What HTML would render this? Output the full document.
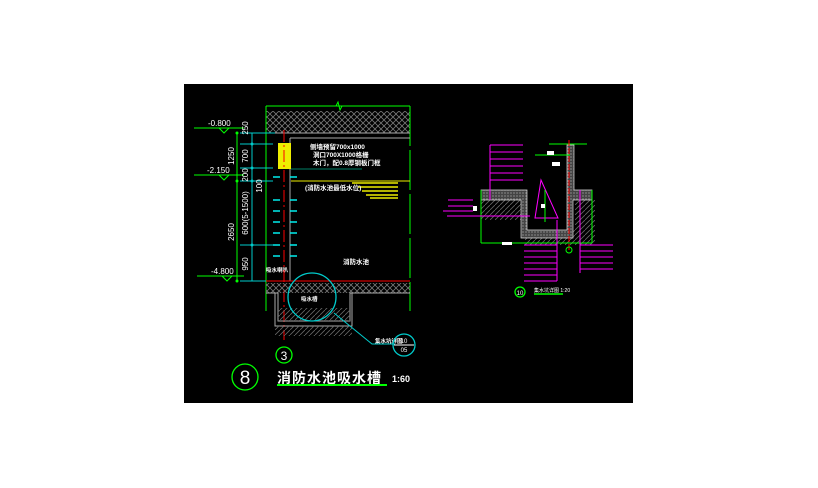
<!DOCTYPE html>
<html><head><meta charset="utf-8"><style>
html,body{margin:0;padding:0;background:#fff;width:818px;height:488px;overflow:hidden}
svg{display:block}
text{font-family:"Liberation Sans","Noto Sans CJK SC",sans-serif}
</style></head><body>
<svg width="818" height="488" viewBox="0 0 818 488" xmlns="http://www.w3.org/2000/svg">
<defs>
<pattern id="h" width="6" height="6" patternUnits="userSpaceOnUse"><path d="M0 6L6 0M0 0L6 6" stroke="#777" stroke-width="0.8"/></pattern>
<pattern id="h2" width="5" height="5" patternUnits="userSpaceOnUse"><path d="M0 5L5 0" stroke="#666" stroke-width="0.8"/></pattern>
<pattern id="dot" width="3" height="3" patternUnits="userSpaceOnUse"><rect width="3" height="3" fill="#444"/><circle cx="1" cy="1" r="0.6" fill="#bbb"/></pattern>
</defs>
<rect x="184" y="84" width="449" height="319" fill="#000"/>
<!-- left drawing -->
<rect x="266" y="111" width="144" height="22" fill="url(#h)"/>
<line x1="266" y1="106" x2="410" y2="106" stroke="#0f0"/>
<path d="M336 106l2-4 2 8 2-4" stroke="#0f0" fill="none"/>
<line x1="266" y1="106" x2="266" y2="311" stroke="#0f0"/>
<line x1="410" y1="106" x2="410" y2="311" stroke="#0f0" stroke-dasharray="40 4"/>
<line x1="266" y1="133" x2="410" y2="133" stroke="#aaa"/>
<line x1="290" y1="138" x2="410" y2="138" stroke="#aaa"/>
<line x1="290" y1="138" x2="290" y2="281" stroke="#aaa"/>
<rect x="278" y="143" width="13" height="26" fill="#ee0"/>
<line x1="291" y1="181" x2="410" y2="181" stroke="#ee0"/>
<g stroke="#ee0" stroke-width="1.5"><line x1="352" y1="183" x2="398" y2="183"/><line x1="358" y1="187" x2="398" y2="187"/><line x1="362" y1="191" x2="398" y2="191"/><line x1="366" y1="195" x2="398" y2="195"/><line x1="370" y1="198" x2="398" y2="198"/></g>
<line x1="291" y1="169" x2="362" y2="169" stroke="#0a8" stroke-width="0.7"/>
<g fill="#fff" font-size="6.5" font-weight="bold"><text x="310" y="149">侧墙预留700x1000</text><text x="313" y="157">洞口700X1000格栅</text><text x="313" y="165">木门，配0.8厚钢板门框</text><text x="305" y="190">(消防水池最低水位)</text><text x="343" y="264">消防水池</text><text x="266" y="272" font-size="5.5">吸水喇叭</text><text x="301" y="301" font-size="5.5">吸水槽</text><text x="375" y="343" font-size="5.5">集水坑详图</text></g>
<g stroke="#0ee" stroke-width="1.5"><line x1="273" y1="177" x2="280" y2="177"/><line x1="290" y1="177" x2="297" y2="177"/><line x1="273" y1="200" x2="280" y2="200"/><line x1="290" y1="200" x2="297" y2="200"/><line x1="273" y1="211" x2="280" y2="211"/><line x1="290" y1="211" x2="297" y2="211"/><line x1="273" y1="222" x2="280" y2="222"/><line x1="290" y1="222" x2="297" y2="222"/><line x1="273" y1="233" x2="280" y2="233"/><line x1="290" y1="233" x2="297" y2="233"/><line x1="273" y1="245" x2="280" y2="245"/><line x1="290" y1="245" x2="297" y2="245"/><line x1="273" y1="256" x2="280" y2="256"/><line x1="290" y1="256" x2="297" y2="256"/></g>
<line x1="284" y1="130" x2="284" y2="340" stroke="#f00" stroke-dasharray="12 3 2 3"/>
<rect x="266" y="283" width="144" height="10" fill="url(#h)"/>
<line x1="266" y1="281" x2="410" y2="281" stroke="#f00"/>
<path d="M266 293H278V321H350V293H410" stroke="#aaa" fill="none"/>
<path d="M275 293V326H352V293" stroke="#aaa" fill="none"/>
<rect x="278" y="308" width="72" height="13" fill="url(#h2)"/>
<rect x="275" y="326" width="77" height="10" fill="url(#h2)"/>
<circle cx="312" cy="297" r="24" stroke="#0cc" fill="none" stroke-width="1.3"/>
<path d="M334 313L372 344H395" stroke="#0cc" fill="none"/>
<circle cx="404" cy="345" r="11" stroke="#0cc" fill="none" stroke-width="1.3"/>
<line x1="394" y1="345" x2="414" y2="345" stroke="#fff"/>
<text x="404" y="343" fill="#fff" font-size="6" text-anchor="middle">10</text>
<text x="404" y="352" fill="#fff" font-size="6" text-anchor="middle">05</text>
<!-- dims -->
<line x1="237" y1="133" x2="237" y2="281" stroke="#0f0"/>
<line x1="252" y1="133" x2="252" y2="281" stroke="#0cc"/>
<g stroke="#0cc"><line x1="240" y1="133" x2="275" y2="133"/><line x1="240" y1="144" x2="273" y2="144"/><line x1="240" y1="168" x2="273" y2="168"/><line x1="240" y1="181" x2="273" y2="181"/><line x1="240" y1="245" x2="273" y2="245"/><line x1="240" y1="281" x2="266" y2="281"/></g>
<g fill="#0f0"><circle cx="237" cy="133" r="1.5"/><circle cx="237" cy="181" r="1.5"/><circle cx="237" cy="281" r="1.5"/></g>
<g fill="#0cc"><circle cx="252" cy="144" r="1.5"/><circle cx="252" cy="168" r="1.5"/><circle cx="252" cy="181" r="1.5"/><circle cx="252" cy="245" r="1.5"/></g>
<g stroke="#0f0" fill="none"><line x1="194" y1="128" x2="244" y2="128"/><path d="M219 128l5 5 5-5"/><line x1="194" y1="175" x2="244" y2="175"/><path d="M219 175l5 5 5-5"/><line x1="197" y1="276" x2="244" y2="276"/><path d="M222 276l5 5 5-5"/></g>
<g fill="#fff" font-size="8"><text x="208" y="126">-0.800</text><text x="207" y="173">-2.150</text><text x="211" y="274">-4.800</text></g>
<g fill="#fff" font-size="8"><text transform="translate(248,128) rotate(-90)" text-anchor="middle">250</text><text transform="translate(248,156) rotate(-90)" text-anchor="middle">700</text><text transform="translate(248,175) rotate(-90)" text-anchor="middle">200</text><text transform="translate(248,213) rotate(-90)" text-anchor="middle">600(5-1500)</text><text transform="translate(248,264) rotate(-90)" text-anchor="middle">950</text><text transform="translate(234,156) rotate(-90)" text-anchor="middle">1250</text><text transform="translate(234,232) rotate(-90)" text-anchor="middle">2650</text><text transform="translate(262,186) rotate(-90)" text-anchor="middle">100</text></g>
<circle cx="284" cy="355" r="8" stroke="#0f0" fill="none" stroke-width="1.3"/>
<text x="284" y="360" fill="#fff" font-size="12" text-anchor="middle">3</text>
<circle cx="245" cy="377" r="13" stroke="#0f0" fill="none" stroke-width="1.3"/>
<text x="245" y="384" fill="#fff" font-size="19" text-anchor="middle">8</text>
<text x="277" y="383" fill="#fff" font-size="14" font-weight="bold" letter-spacing="1">消防水池吸水槽</text>
<line x1="277" y1="385" x2="387" y2="385" stroke="#0f0" stroke-width="2"/>
<text x="392" y="382" fill="#fff" font-size="9" font-weight="bold">1:60</text>
<!-- right drawing -->
<g>
<rect x="481" y="190" width="44" height="30" fill="url(#h2)"/>
<rect x="575" y="200" width="20" height="45" fill="url(#h2)"/>
<rect x="525" y="230" width="50" height="15" fill="url(#h2)"/>
<path d="M481 190H527V230H567V145H574V190H592V200H573V238H521V200H481Z" fill="url(#dot)" stroke="#ddd" stroke-width="0.7"/>
<line x1="481" y1="190" x2="481" y2="243" stroke="#0f0"/>
<line x1="592" y1="190" x2="592" y2="243" stroke="#0f0"/>
<line x1="481" y1="243" x2="592" y2="243" stroke="#0f0"/>
<line x1="549" y1="144" x2="587" y2="144" stroke="#0f0"/>
<line x1="535" y1="155" x2="570" y2="155" stroke="#0f0"/>
<line x1="569" y1="140" x2="569" y2="252" stroke="#f00" stroke-dasharray="6 2"/>
<path d="M535 218L541 180L558 218Z" stroke="#f0f" fill="none"/>
<line x1="545" y1="190" x2="545" y2="222" stroke="#0f0"/>
<g stroke="#f0f" stroke-width="1"><line x1="490" y1="145" x2="490" y2="200"/><line x1="490" y1="145" x2="523" y2="145"/><line x1="490" y1="152" x2="523" y2="152"/><line x1="490" y1="159" x2="523" y2="159"/><line x1="490" y1="166" x2="523" y2="166"/><line x1="490" y1="173" x2="523" y2="173"/><line x1="490" y1="180" x2="523" y2="180"/>
<line x1="448" y1="200" x2="473" y2="200"/><line x1="448" y1="206" x2="473" y2="206"/><line x1="443" y1="211" x2="473" y2="211"/><line x1="448" y1="216" x2="473" y2="216"/><line x1="447" y1="216" x2="530" y2="216"/>
<line x1="557" y1="220" x2="557" y2="281"/><line x1="524" y1="245" x2="557" y2="245"/><line x1="524" y1="251" x2="557" y2="251"/><line x1="524" y1="257" x2="557" y2="257"/><line x1="524" y1="263" x2="557" y2="263"/><line x1="524" y1="269" x2="557" y2="269"/><line x1="524" y1="275" x2="557" y2="275"/><line x1="524" y1="281" x2="557" y2="281"/>
<line x1="580" y1="190" x2="580" y2="273"/><line x1="580" y1="245" x2="613" y2="245"/><line x1="580" y1="251" x2="613" y2="251"/><line x1="580" y1="257" x2="613" y2="257"/><line x1="580" y1="263" x2="613" y2="263"/><line x1="580" y1="269" x2="613" y2="269"/></g>
<g fill="#fff"><rect x="547" y="151" width="7" height="4"/><rect x="552" y="162" width="8" height="4"/><rect x="473" y="206" width="4" height="5"/><rect x="541" y="204" width="4" height="4"/><rect x="502" y="242" width="10" height="3"/></g>
<circle cx="569" cy="250" r="3" stroke="#0f0" fill="none"/>
<circle cx="520" cy="292" r="5" stroke="#0f0" fill="none" stroke-width="1.3"/>
<text x="520" y="295" fill="#fff" font-size="6" text-anchor="middle">10</text>
<text x="534" y="292" fill="#fff" font-size="5">集水坑详图 1:20</text>
<line x1="534" y1="294" x2="563" y2="294" stroke="#0f0" stroke-width="1.5"/>
</g>
</svg>
</body></html>
